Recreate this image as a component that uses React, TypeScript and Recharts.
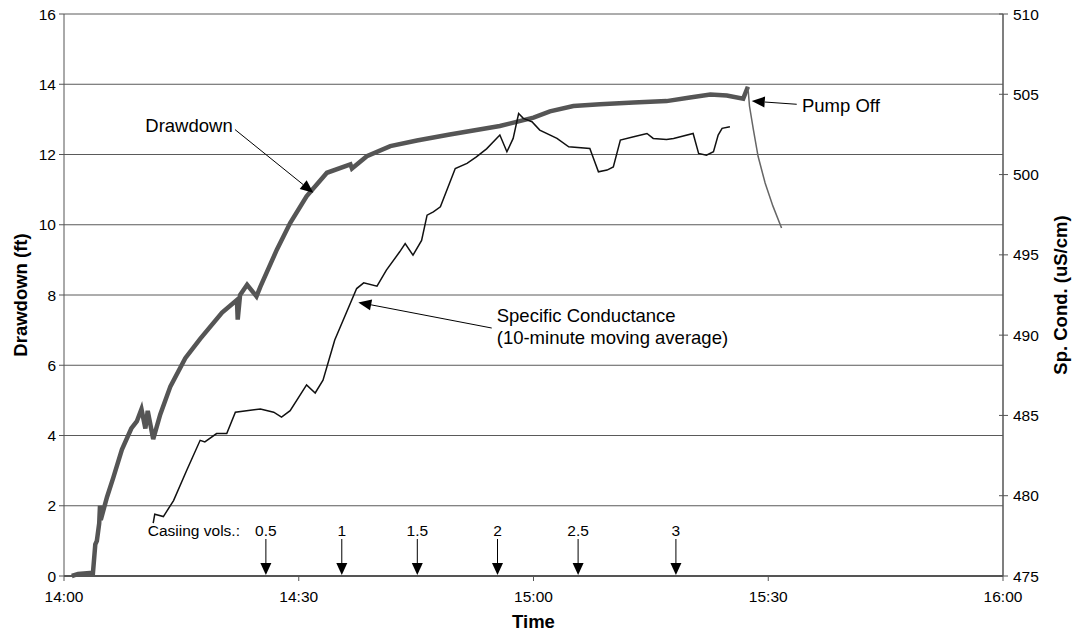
// Pumping test: drawdown and specific conductance vs. time, dual y-axes.

import {
  LineChart,
  Line,
  XAxis,
  YAxis,
  CartesianGrid,
  ReferenceLine,
  ReferenceDot,
} from 'recharts';

const FONT = '"Liberation Sans", Arial, sans-serif';

// Time axis: minutes after 14:00
const timeTickMinutes = [0, 30, 60, 90, 120];
const timeTickLabels = ['14:00', '14:30', '15:00', '15:30', '16:00'];
const drawdownTicks = [0, 2, 4, 6, 8, 10, 12, 14, 16];
const condTicks = [475, 480, 485, 490, 495, 500, 505, 510];

// Drawdown while pumping (ft)
const drawdownMinutes = [
  1.0, 1.8, 3.7, 4.0, 4.2, 4.5, 4.6, 4.7, 5.5, 6.3, 7.4, 8.6, 9.3, 9.9, 10.4,
  10.7, 11.4, 12.3, 13.6, 15.5, 17.4, 20.2, 22.1, 22.2, 22.5, 23.4, 24.6, 25.1,
  27.2, 28.9, 31.0, 33.6, 36.6, 36.8, 38.7, 41.7, 45.1, 49.3, 55.7, 60.0, 62.1,
  65.1, 68.5, 72.8, 77.0, 80.0, 82.6, 84.7, 86.8, 87.4,
];
const drawdownFeet = [
  0.0, 0.06, 0.09, 0.9, 1.0, 1.5, 2.0, 1.6, 2.25, 2.8, 3.6, 4.2, 4.4, 4.75, 4.2,
  4.7, 3.9, 4.6, 5.4, 6.2, 6.75, 7.5, 7.86, 7.3, 8.0, 8.29, 7.96, 8.24, 9.29,
  10.05, 10.81, 11.48, 11.72, 11.6, 11.95, 12.24, 12.4, 12.57, 12.81, 13.05,
  13.23, 13.38, 13.43, 13.48, 13.52, 13.62, 13.71, 13.68, 13.59, 13.93,
];

// Recovery after the pump was turned off (ft)
const recoveryMinutes = [87.4, 87.6, 88.1, 88.7, 89.6, 90.6, 91.7];
const recoveryFeet = [13.93, 13.38, 12.71, 11.95, 11.19, 10.53, 9.91];

// Specific conductance, 10-minute moving average (uS/cm)
const condMinutes = [
  11.4, 11.6, 12.7, 14.0, 15.7, 17.4, 18.0, 19.5, 20.8, 21.9, 25.1, 26.8, 27.8,
  28.9, 31.0, 32.1, 33.1, 34.6, 37.4, 38.3, 40.0, 41.2, 42.9, 43.6, 44.6, 45.7,
  46.4, 47.2, 48.1, 50.0, 51.5, 52.7, 54.0, 55.7, 56.6, 57.4, 58.1, 58.7, 59.8,
  60.8, 63.0, 64.5, 67.2, 67.6, 68.3, 69.4, 70.2, 71.1, 72.8, 74.5, 75.3, 77.0,
  77.9, 80.4, 81.1, 82.1, 83.0, 83.6, 84.1, 85.1,
];
const condValues = [
  478.3, 478.85, 478.7, 479.7, 481.6, 483.45, 483.35, 483.87, 483.87, 485.2,
  485.4, 485.2, 484.9, 485.3, 486.9, 486.4, 487.2, 489.7, 492.9, 493.26, 493.05,
  494.05, 495.19, 495.7, 494.98, 495.9, 497.47, 497.68, 497.99, 500.38, 500.7,
  501.1, 501.6, 502.46, 501.42, 502.25, 503.8, 503.5, 503.29, 502.77, 502.25,
  501.73, 501.63, 501.1, 500.17, 500.28, 500.48, 502.15, 502.35, 502.56, 502.25,
  502.19, 502.25, 502.56, 501.32, 501.21, 501.42, 502.46, 502.88, 502.98,
];

// Casing volumes purged
const casingVolMinutes = [25.8, 35.5, 45.15, 55.4, 65.7, 78.2];
const casingVolLabels = ['0.5', '1', '1.5', '2', '2.5', '3'];

const drawdownData = drawdownMinutes.map((t, i) => ({ t, ft: drawdownFeet[i] }));
const recoveryData = recoveryMinutes.map((t, i) => ({ t, ft: recoveryFeet[i] }));
const condData = condMinutes.map((t, i) => ({ t, cond: condValues[i] }));

const tickStyle = { fill: '#000', fontSize: 15.5, fontFamily: FONT };
const titleStyle = { fontWeight: 'bold', fontSize: 18.5, fill: '#000', fontFamily: FONT };

// Line with a filled arrowhead at (x2, y2)
function Arrow(props: any) {
  const { x1, y1, x2, y2 } = props;
  const dx = x2 - x1;
  const dy = y2 - y1;
  const len = Math.hypot(dx, dy) || 1;
  const ux = dx / len;
  const uy = dy / len;
  const hl = 13;
  const hw = 5.5;
  const bx = x2 - ux * hl;
  const by = y2 - uy * hl;
  return (
    <g>
      <line x1={x1} y1={y1} x2={bx} y2={by} stroke="#000" strokeWidth={1} />
      <polygon
        points={`${x2},${y2} ${bx - uy * hw},${by + ux * hw} ${bx + uy * hw},${by - ux * hw}`}
        fill="#000"
      />
    </g>
  );
}

function noteText(lines: string[], anchor: 'start' | 'end') {
  return (props: any) => (
    <text
      x={props.cx}
      y={props.cy}
      textAnchor={anchor}
      dominantBaseline="central"
      fontSize={18.5}
      fontFamily={FONT}
      fill="#000"
    >
      {lines.map((s, i) => (
        <tspan key={i} x={props.cx} dy={i === 0 ? 0 : 22}>
          {s}
        </tspan>
      ))}
    </text>
  );
}

function casingArrow(label: string) {
  return (props: any) => {
    const { cx, cy } = props;
    return (
      <g>
        <text
          x={cx}
          y={cy - 46}
          textAnchor="middle"
          dominantBaseline="central"
          fontSize={15.5}
          fontFamily={FONT}
          fill="#000"
        >
          {label}
        </text>
        <line x1={cx} y1={cy - 37} x2={cx} y2={cy - 13} stroke="#000" strokeWidth={1} />
        <polygon points={`${cx - 5.5},${cy - 13} ${cx + 5.5},${cy - 13} ${cx},${cy - 1}`} fill="#000" />
      </g>
    );
  };
}

// Right-axis tick: mark crosses the axis line, label to the right
function RightTick(props: any) {
  const { x, y, payload } = props;
  return (
    <g>
      <line x1={x - 14} y1={y} x2={x - 5} y2={y} stroke="#555" strokeWidth={1} />
      <text x={x} y={y} dominantBaseline="central" textAnchor="start" {...tickStyle}>
        {payload.value}
      </text>
    </g>
  );
}

export default function App() {
  return (
    <div style={{ position: 'absolute', left: 0, top: 0, width: 1074, height: 633, background: '#fff' }}>
      <LineChart width={1074} height={633} margin={{ top: 14, right: 0, bottom: 0, left: 0 }}>
        <CartesianGrid vertical={false} yAxisId="left" stroke="#5a5a5a" strokeWidth={1} />
        <XAxis
          dataKey="t"
          type="number"
          domain={[0, 120]}
          ticks={timeTickMinutes}
          tickFormatter={(v) => timeTickLabels[timeTickMinutes.indexOf(v)]}
          height={57}
          tickSize={5}
          tickMargin={10}
          tick={tickStyle}
          axisLine={{ stroke: '#555', strokeWidth: 2 }}
          tickLine={{ stroke: '#555' }}
          label={{ value: 'Time', position: 'insideBottom', offset: 5, style: titleStyle }}
        />
        <YAxis
          yAxisId="left"
          domain={[0, 16]}
          ticks={drawdownTicks}
          width={64}
          tickSize={5}
          tickMargin={3}
          tick={tickStyle}
          axisLine={{ stroke: '#555' }}
          tickLine={{ stroke: '#555' }}
          label={{
            value: 'Drawdown (ft)',
            angle: -90,
            position: 'insideLeft',
            offset: 20,
            style: { ...titleStyle, textAnchor: 'middle' },
          }}
        />
        <YAxis
          yAxisId="right"
          orientation="right"
          domain={[475, 510]}
          ticks={condTicks}
          width={71}
          tickSize={5}
          tickMargin={5}
          tick={<RightTick />}
          tickLine={false}
          axisLine={{ stroke: '#555', strokeWidth: 1.5 }}
          label={{
            value: 'Sp. Cond. (uS/cm)',
            angle: -90,
            position: 'insideRight',
            offset: 14,
            style: { ...titleStyle, textAnchor: 'middle' },
          }}
        />

        <Line
          yAxisId="left"
          data={drawdownData}
          dataKey="ft"
          stroke="#555"
          strokeWidth={4.5}
          dot={false}
          activeDot={false}
          isAnimationActive={false}
        />
        <Line
          yAxisId="left"
          data={recoveryData}
          dataKey="ft"
          stroke="#666"
          strokeWidth={1.5}
          dot={false}
          activeDot={false}
          isAnimationActive={false}
        />
        <Line
          yAxisId="right"
          data={condData}
          dataKey="cond"
          stroke="#111"
          strokeWidth={1.5}
          dot={false}
          activeDot={false}
          isAnimationActive={false}
        />

        {/* Annotations */}
        <ReferenceLine
          yAxisId="left"
          segment={[{ x: 21.85, y: 12.71 }, { x: 31.86, y: 10.91 }]}
          shape={Arrow}
        />
        <ReferenceDot yAxisId="left" x={21.56} y={12.84} r={0} shape={noteText(['Drawdown'], 'end')} />

        <ReferenceLine
          yAxisId="left"
          segment={[{ x: 54.66, y: 7.06 }, { x: 37.61, y: 7.79 }]}
          shape={Arrow}
        />
        <ReferenceDot
          yAxisId="left"
          x={55.3}
          y={7.44}
          r={0}
          shape={noteText(['Specific Conductance', '(10-minute moving average)'], 'start')}
        />

        <ReferenceLine
          yAxisId="left"
          segment={[{ x: 93.64, y: 13.43 }, { x: 87.89, y: 13.52 }]}
          shape={Arrow}
        />
        <ReferenceDot yAxisId="left" x={94.31} y={13.4} r={0} shape={noteText(['Pump Off'], 'start')} />

        <ReferenceDot
          yAxisId="left"
          x={22.49}
          y={0}
          r={0}
          shape={(p: any) => (
            <text
              x={p.cx}
              y={p.cy - 46}
              textAnchor="end"
              dominantBaseline="central"
              fontSize={15.5}
              fontFamily={FONT}
              fill="#000"
            >
              Casiing vols.:
            </text>
          )}
        />
        {casingVolMinutes.map((t, i) => (
          <ReferenceDot
            key={t}
            yAxisId="left"
            x={t}
            y={0}
            r={0}
            shape={casingArrow(casingVolLabels[i])}
          />
        ))}
      </LineChart>
    </div>
  );
}
